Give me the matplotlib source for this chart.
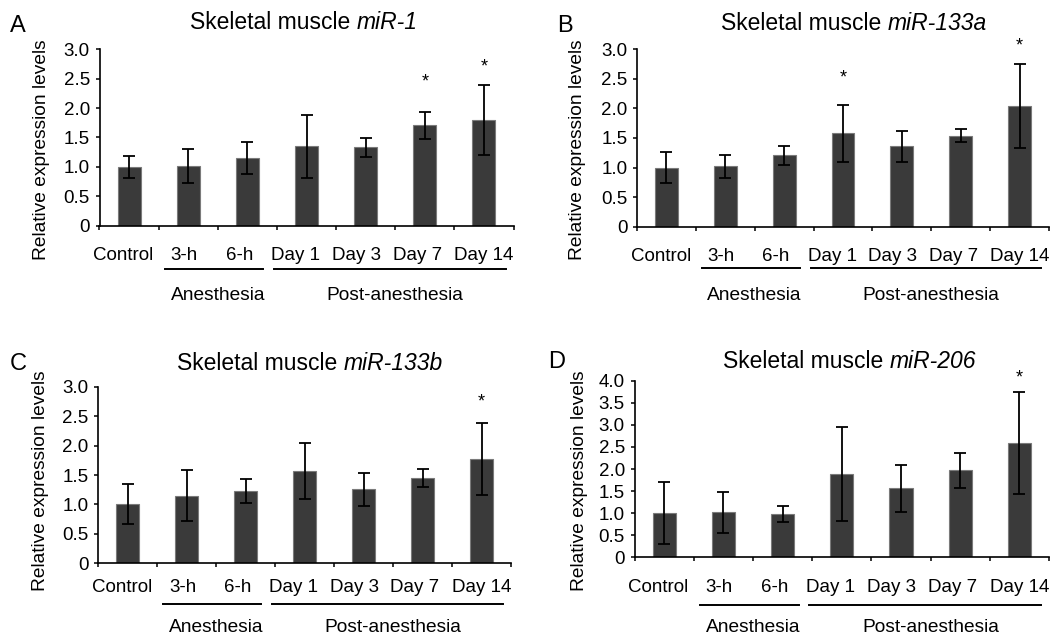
import matplotlib
matplotlib.use("Agg")
import matplotlib.pyplot as plt
from matplotlib.transforms import blended_transform_factory, ScaledTranslation

plt.rcParams['font.family'] = ['Liberation Sans', 'DejaVu Sans']

categories = ['Control', '3-h', '6-h', 'Day 1', 'Day 3', 'Day 7', 'Day 14']
groups = ['Anesthesia', 'Post-anesthesia']

mir1_mean = [1.00, 1.02, 1.15, 1.35, 1.33, 1.71, 1.80]
mir1_err = [0.19, 0.29, 0.27, 0.54, 0.16, 0.23, 0.60]
mir1_stars = [(5, 2.55), (6, 2.82)]

mir133a_mean = [1.00, 1.02, 1.21, 1.58, 1.36, 1.54, 2.04]
mir133a_err = [0.26, 0.20, 0.16, 0.48, 0.26, 0.11, 0.71]
mir133a_stars = [(3, 2.62), (6, 3.16)]

mir133b_mean = [1.00, 1.15, 1.23, 1.57, 1.26, 1.45, 1.77]
mir133b_err = [0.34, 0.43, 0.21, 0.47, 0.28, 0.16, 0.61]
mir133b_stars = [(6, 2.86)]

mir206_mean = [1.00, 1.02, 0.99, 1.89, 1.56, 1.97, 2.59]
mir206_err = [0.70, 0.47, 0.18, 1.06, 0.53, 0.40, 1.15]
mir206_stars = [(6, 4.20)]

yticks_3 = [0, 0.5, 1.0, 1.5, 2.0, 2.5, 3.0]
yticks_4 = [0, 0.5, 1.0, 1.5, 2.0, 2.5, 3.0, 3.5, 4.0]

# horizontal nudges (pixels) of category labels, as typeset in the original figure
label_dx = [-5.5, -4, -8, -11, -9.5, -7.5, 0]

W, H = 1057, 641
fig = plt.figure(figsize=(W / 100, H / 100), dpi=100)

panels = [
    dict(letter='A', name='miR-1', mean=mir1_mean, err=mir1_err, stars=mir1_stars, yt=yticks_3,
         box=(99.5, 513.5, 49.3, 225.7), title=(304, 29), let=(10, 32), ylab=(41, 150),
         xpad=29, line_y=269, grp_y=295),
    dict(letter='B', name='miR-133a', mean=mir133a_mean, err=mir133a_err, stars=mir133a_stars, yt=yticks_3,
         box=(637, 1049, 49.3, 226.7), title=(854, 30), let=(557, 32), ylab=(578, 150),
         xpad=28.5, line_y=268, grp_y=295),
    dict(letter='C', name='miR-133b', mean=mir133b_mean, err=mir133b_err, stars=mir133b_stars, yt=yticks_3,
         box=(98, 511, 386.7, 563.3), title=(310, 370), let=(10, 370), ylab=(41, 481),
         xpad=23.5, line_y=604, grp_y=628),
    dict(letter='D', name='miR-206', mean=mir206_mean, err=mir206_err, stars=mir206_stars, yt=yticks_4,
         box=(634.5, 1049, 380.7, 557.3), title=(850, 368), let=(548, 368), ylab=(579, 481),
         xpad=29.5, line_y=605, grp_y=628),
]

group_spans = [(0.6, 2.27), (2.45, 6.37)]
group_centers = [1.5, 4.5]

def fx(px):
    return px / W

def fy(py):
    return 1 - py / H

title_pairs = []
for p in panels:
    l, r, t, b = p['box']
    ax = fig.add_axes([fx(l), fy(b), (r - l) / W, (b - t) / H])
    x = list(range(len(categories)))
    ax.bar(x, p['mean'], width=0.39, color='#3a3a3a', edgecolor='#7a7a7a', linewidth=0.8, zorder=2)
    ax.errorbar(x, p['mean'], yerr=p['err'], fmt='none', ecolor='black', elinewidth=1.3,
                capsize=4, capthick=1.3, zorder=3)
    for (i, ys) in p['stars']:
        ax.annotate('*', xy=(i, ys), xytext=(0, -8), textcoords='offset points',
                    ha='center', va='baseline', fontsize=13, annotation_clip=False)
    ax.set_xlim(-0.5, len(categories) - 0.5)
    ax.set_ylim(p['yt'][0], p['yt'][-1])
    ax.set_yticks(p['yt'])
    ax.set_yticklabels(['0' if v == 0 else f'{v:.1f}' for v in p['yt']], fontsize=13.5)
    ax.set_xticks(x)
    ax.set_xticklabels(categories, fontsize=13.5)
    ax.set_xticks([i - 0.5 for i in range(len(categories) + 1)], minor=True)
    ax.tick_params(axis='x', which='major', length=0, pad=(p['xpad'] - 7.5) * 0.72)
    ax.tick_params(axis='x', which='minor', length=3, width=1.1, direction='out')
    ax.tick_params(axis='y', length=3, width=1.1, direction='out', pad=4)
    for tick, dx in zip(ax.xaxis.get_major_ticks(), label_dx):
        lab = tick.label1
        lab.set_transform(lab.get_transform() + ScaledTranslation(dx / 100, 0, fig.dpi_scale_trans))
    for s in ['top', 'right']:
        ax.spines[s].set_visible(False)
    for s in ['left', 'bottom']:
        ax.spines[s].set_linewidth(1.2)
    ax.set_ylabel('Relative expression levels', fontsize=13.8)
    ax.yaxis.set_label_coords((p['ylab'][0] - l) / (r - l), (b - p['ylab'][1]) / (b - t))
    ax.yaxis.label.set_va('center')

    tr = blended_transform_factory(ax.transData, fig.transFigure)
    for (x0, x1), xc, g in zip(group_spans, group_centers, groups):
        ax.plot([x0, x1], [fy(p['line_y'])] * 2, color='black', lw=1.4, transform=tr, clip_on=False)
        ax.text(xc, fy(p['grp_y']), g, transform=tr, ha='center', va='center', fontsize=13.8)

    fig.text(fx(p['let'][0]), fy(p['let'][1]), p['letter'], fontsize=17, ha='left', va='baseline')
    t1 = fig.text(fx(p['title'][0]), fy(p['title'][1]), 'Skeletal muscle ', fontsize=16.5,
                  ha='left', va='baseline')
    t2 = fig.text(fx(p['title'][0]), fy(p['title'][1]), p['name'], fontsize=16.5, style='italic',
                  ha='left', va='baseline')
    title_pairs.append((t1, t2, p['title'][0]))

fig.canvas.draw()
r = fig.canvas.get_renderer()
for t1, t2, cx in title_pairs:
    w1 = t1.get_window_extent(r).width
    w2 = t2.get_window_extent(r).width
    start = cx - (w1 + w2) / 2
    t1.set_x(fx(start))
    t2.set_x(fx(start + w1))

fig.savefig('out.png', dpi=100)
